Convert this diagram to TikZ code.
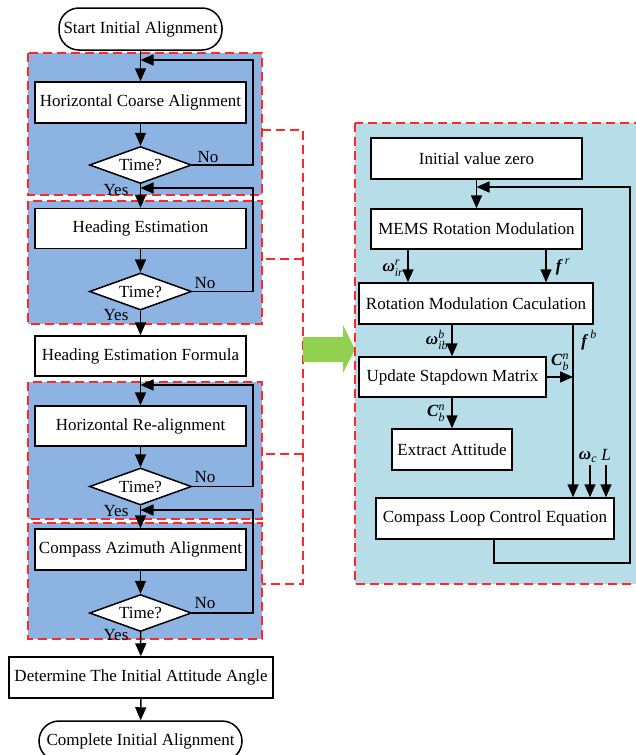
\documentclass[tikz,border=0pt]{standalone}
\usepackage{fix-cm}
\usepackage{amsmath}
\usepackage{fontspec}
\setmainfont{Liberation Serif}
\usetikzlibrary{shapes.geometric,arrows.meta}
\definecolor{grpblue}{RGB}{141,179,226}
\definecolor{panelblue}{RGB}{183,221,232}
\definecolor{dashred}{RGB}{255,40,40}
\definecolor{arrgreen}{RGB}{146,208,80}
\newcommand\bi[1]{\textbf{\textit{#1}}}
\tikzset{
  box/.style={draw=black, fill=white, line width=1.5pt, inner sep=0pt, align=center},
  term/.style={box, rounded corners=20pt},
  dec/.style={draw=black, fill=white, line width=1.5pt, shape=diamond, inner sep=0pt,
     minimum width=102pt, minimum height=37pt, aspect=2.76},
  arr/.style={line width=1.5pt, draw=black, -{Triangle[length=13pt,width=11pt]}},
  ln/.style={line width=1.5pt, draw=black},
  grp/.style={fill=grpblue, draw=dashred, line width=1.7pt, dash pattern=on 9pt off 5pt},
  panel/.style={fill=panelblue, draw=dashred, line width=1.7pt, dash pattern=on 9pt off 5pt},
  brk/.style={draw=dashred, line width=1.7pt, dash pattern=on 9pt off 5pt},
  lbl/.style={inner sep=0pt},
}
\begin{document}
\begin{tikzpicture}[x=1pt,y=-1pt,font=\fontsize{17}{20}\selectfont]
\useasboundingbox (0,0) rectangle (636,755);
% ---------- group backgrounds ----------
\draw[grp] (28,53) rectangle (262,195);
\draw[grp] (28,201) rectangle (262,324);
\draw[grp] (28,382) rectangle (262,519);
\draw[grp] (28,523) rectangle (262,639);
% bracket
\draw[brk] (262,130) -- (303,130) -- (303,584) -- (262,584);
\draw[brk] (303,259) -- (262,259);
\draw[brk] (303,454) -- (262,454);
% green arrow
\fill[arrgreen] (303,337) -- (343,337) -- (343,325) -- (355,349.5) -- (343,373) -- (343,362) -- (303,362) -- cycle;
% right panel
\draw[panel] (355,123) rectangle (640,584);

% ---------- left flow nodes ----------
\node[term, minimum width=163pt, minimum height=42pt] (start) at (140.5,29) {Start Initial Alignment};
\node[box, minimum width=211pt, minimum height=41pt] (hca) at (140.5,102.5) {Horizontal Coarse Alignment};
\node[dec] (d1) at (140.5,165) {Time?};
\node[box, minimum width=211pt, minimum height=40pt] (he) at (140.5,228.5) {Heading Estimation};
\node[dec] (d2) at (140.5,291.5) {Time?};
\node[box, minimum width=211pt, minimum height=40pt] (hef) at (140.5,356) {Heading Estimation Formula};
\node[box, minimum width=211pt, minimum height=40pt] (hra) at (140.5,426) {Horizontal Re-alignment};
\node[dec] (d3) at (140.5,486.5) {Time?};
\node[box, minimum width=211pt, minimum height=41pt] (caa) at (140.5,549.5) {Compass Azimuth Alignment};
\node[dec] (d4) at (140.5,613) {Time?};
\node[box, minimum width=264pt, minimum height=41pt] (diaa) at (141,677.5) {Determine The Initial Attitude Angle};
\node[term, minimum width=203pt, minimum height=40pt] (cia) at (140.5,741) {Complete Initial Alignment};

% loop junction coordinates
\coordinate (j1) at (140.5,60);
\coordinate (j2) at (140.5,188);
\coordinate (j3) at (140.5,385);
\coordinate (j4) at (140.5,510);
\coordinate (rx) at (253,0);

% main arrows
\draw[arr] (start) -- (hca);
\draw[arr] (hca) -- (d1);
\draw[arr] (d1) -- (he);
\draw[arr] (he) -- (d2);
\draw[arr] (d2) -- (hef);
\draw[arr] (hef) -- (hra);
\draw[arr] (hra) -- (d3);
\draw[arr] (d3) -- (caa);
\draw[arr] (caa) -- (d4);
\draw[arr] (d4) -- (diaa);
\draw[arr] (diaa) -- (cia);
% loops
\draw[arr] (d1.east) -- (d1.east -| rx) -- (j1 -| rx) -- (j1);
\draw[arr] (d2.east) -- (d2.east -| rx) -- (j2 -| rx) -- (j2);
\draw[arr] (d3.east) -- (d3.east -| rx) -- (j3 -| rx) -- (j3);
\draw[arr] (d4.east) -- (d4.east -| rx) -- (j4 -| rx) -- (j4);
% labels
\node[lbl] (no1) at (208,157) {No};
\node[lbl] (yes1) at (116,190) {Yes};
\node[lbl] (no2) at (205,283) {No};
\node[lbl] (yes2) at (116,315) {Yes};
\node[lbl] (no3) at (205,477) {No};
\node[lbl] (yes3) at (116,511) {Yes};
\node[lbl] (no4) at (205,603) {No};
\node[lbl] (yes4) at (116,635) {Yes};

% ---------- right panel ----------
\node[box, minimum width=211pt, minimum height=41pt] (ivz) at (476.5,158.5) {Initial value zero};
\node[box, minimum width=211pt, minimum height=40pt] (mems) at (476.5,229) {MEMS Rotation Modulation};
\node[box, minimum width=234pt, minimum height=41pt] (rmc) at (476,303.5) {Rotation Modulation Caculation};
\node[box, minimum width=187pt, minimum height=40pt] (usm) at (452.5,377) {Update Stapdown Matrix};
\node[box, minimum width=120pt, minimum height=41pt] (ea) at (452,449.5) {Extract Attitude};
\node[box, minimum width=238pt, minimum height=41pt] (clce) at (495,518.5) {Compass Loop Control Equation};

\coordinate (cw) at (408,0);
\coordinate (cf) at (546,0);
\coordinate (cb) at (452,0);
\coordinate (cfb) at (573,0);
\coordinate (cfbk) at (630,0);
\coordinate (cout) at (494,0);
\coordinate (jf) at (476.5,187);
\coordinate (wcs) at (590,465);
\coordinate (ls) at (606,465);
\coordinate (lowy) at (0,563);

\draw[arr] (ivz) -- (mems);
\draw[arr] (mems.south -| cw) -- (rmc.north -| cw);
\draw[arr] (mems.south -| cf) -- (rmc.north -| cf);
\draw[arr] (rmc.south -| cb) -- (usm.north -| cb);
\draw[arr] (rmc.south -| cfb) -- (clce.north -| cfb);
\draw[arr] (usm.east) -- (usm.east -| cfb);
\draw[arr] (usm.south -| cb) -- (ea.north -| cb);
\draw[arr] (wcs) -- (clce.north -| wcs);
\draw[arr] (ls) -- (clce.north -| ls);
\draw[arr] (clce.south -| cout) -- (lowy -| cout) -- (lowy -| cfbk) -- (jf -| cfbk) -- (jf);

\node[lbl] (lwir) at (393,268) {$\text{\bi{ω}}^{\textit{r}}_{\textit{ir}}$};
\node[lbl] (lfr) at (563,267) {$\text{\bi{f}}^{\,\textit{r}}$};
\node[lbl] (lwib) at (437,340) {$\text{\bi{ω}}^{\textit{b}}_{\textit{ib}}$};
\node[lbl] (lfb) at (589,340) {$\text{\bi{f}}^{\,\textit{b}}$};
\node[lbl] (lcbn1) at (560,362) {$\text{\bi{C}}^{\textit{n}}_{\textit{b}}$};
\node[lbl] (lcbn2) at (436,413) {$\text{\bi{C}}^{\textit{n}}_{\textit{b}}$};
\node[lbl] (lwc) at (588,457) {$\text{\bi{ω}}_{\textit{c}}$};
\node[lbl] (lL) at (606,455) {\textit{L}};
\end{tikzpicture}
\end{document}
